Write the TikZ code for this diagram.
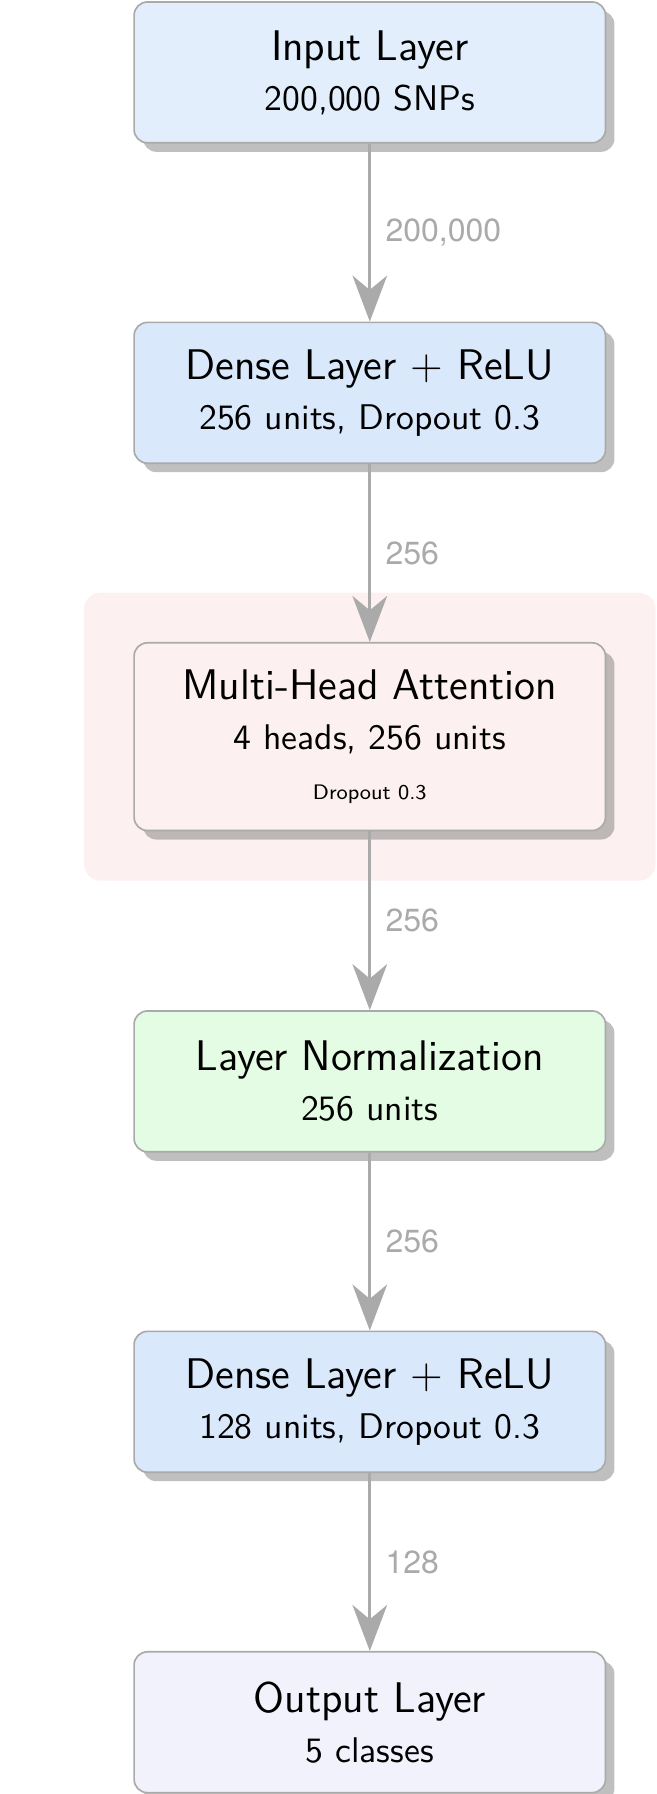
\documentclass[tikz,border=0pt]{standalone}
\usepackage{fontspec}
\newfontfamily\edgefont{TeX Gyre Heros}
\usepackage{xcolor}
\usepackage{tikz}
\usetikzlibrary{positioning, arrows.meta, shadows, fit, backgrounds}

\definecolor{inputblue}{HTML}{E2EEFC}
\definecolor{denseblue}{HTML}{DAE8FC}
\definecolor{attnpink}{HTML}{FDF0F0}
\definecolor{normgreen}{HTML}{E4FCE3}
\definecolor{outlavender}{HTML}{F1F2FC}
\definecolor{edgegray}{HTML}{AAAAAA}

\newcommand{\layertitle}[1]{{\fontsize{12.85}{15}\selectfont #1}}
\newcommand{\layernote}[1]{{\fontsize{6.3}{8}\selectfont #1}}

\begin{document}
\begin{tikzpicture}[font=\fontsize{10.7}{12}\sffamily\selectfont,
        layerbox/.style={draw=edgegray, line width=0.5pt, rounded corners=4pt, align=center,
            minimum width=4.97cm, minimum height=1.485cm,
            drop shadow={shadow xshift=2.7pt, shadow yshift=-2.7pt, fill=black!50, opacity=0.5}},
        flow/.style={draw=edgegray, line width=0.8pt, -{Stealth[length=13.8pt, width=10.4pt, inset=4.3pt]}},
        flowlabel/.style={midway, right, xshift=1pt, text=edgegray, font=\edgefont\fontsize{9.6}{11}\selectfont}]
        \useasboundingbox (0,0) rectangle (6.927,-18.916);
        \node[layerbox, fill=inputblue, anchor=north] (input) at (3.899,-0.012) {\layertitle{Input Layer}\\[3pt] 200,000 SNPs};
        \node[layerbox, fill=denseblue, below=1.876cm of input] (dense1) {\layertitle{Dense Layer + ReLU}\\[3pt] 256 units, Dropout 0.3};
        \node[layerbox, fill=attnpink, minimum height=1.979cm, below=1.876cm of dense1] (mha) {\layertitle{Multi-Head Attention}\\[3pt] 4 heads, 256 units\\[3pt] \layernote{Dropout 0.3}};
        \node[layerbox, fill=normgreen, below=1.885cm of mha] (norm) {\layertitle{Layer Normalization}\\[3pt] 256 units};
        \node[layerbox, fill=denseblue, below=1.876cm of norm] (dense2) {\layertitle{Dense Layer + ReLU}\\[3pt] 128 units, Dropout 0.3};
        \node[layerbox, fill=outlavender, below=1.876cm of dense2] (output) {\layertitle{Output Layer}\\[3pt] 5 classes};
        % attention block background
        \begin{scope}[on background layer]
            \node[fill=attnpink, rounded corners=5pt, inner sep=0.52cm, fit=(mha)] (attnzone) {};
        \end{scope}
        \draw[flow] (input) -- node[flowlabel]{200,000} (dense1);
        \draw[flow] (dense1) -- node[flowlabel]{256} (mha);
        \draw[flow] (mha) -- node[flowlabel]{256} (norm);
        \draw[flow] (norm) -- node[flowlabel]{256} (dense2);
        \draw[flow] (dense2) -- node[flowlabel]{128} (output);
    \end{tikzpicture}
\end{document}
